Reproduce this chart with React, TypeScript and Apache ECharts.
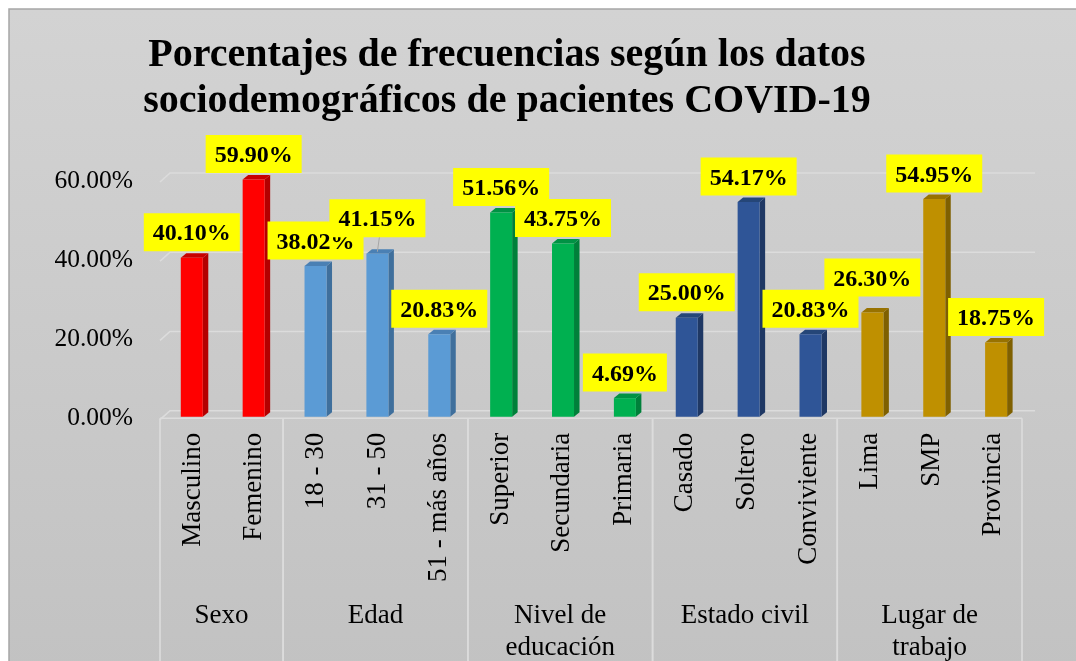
import React, { useEffect, useRef } from "react";
import * as echarts from "echarts";

const categories = [
  "Masculino", "Femenino",
  "18 - 30", "31 - 50", "51 - más años",
  "Superior", "Secundaria", "Primaria",
  "Casado", "Soltero", "Conviviente",
  "Lima", "SMP", "Provincia",
];
const values = [40.10, 59.90, 38.02, 41.15, 20.83, 51.56, 43.75, 4.69, 25.00, 54.17, 20.83, 26.30, 54.95, 18.75];
const groupNames = ["Sexo", "Edad", "Nivel de\neducación", "Estado civil", "Lugar de\ntrabajo"];
const groupStart = [0, 2, 5, 8, 11];
const groupEnd = [1, 4, 7, 10, 13];
const groupOf = [0, 0, 1, 1, 1, 2, 2, 2, 3, 3, 3, 4, 4, 4];
const yTicks = [0, 20, 40, 60];

const frontColors = ["#ff0000", "#5b9bd5", "#00b050", "#2f5597", "#bf9000"];
const sideColors = ["#b40000", "#3f6f9c", "#00803a", "#1f3864", "#7f6000"];
const topColors = ["#c80000", "#4a80b4", "#009244", "#254678", "#987200"];
// labels lifted higher in the reference (index -> lift, leader line)
const labelLift: Record<number, number> = { 3: 10, 11: 9.5 };
const leaderLines = [3];

const FONT = "'Liberation Serif', 'Times New Roman', serif";
const N = categories.length;

function barX(api: any, i: number, v: number) {
  const p = api.coord([i, v]);
  return [p[0] + 1 + i * 0.3, p[1]];
}

export default function App() {
  const ref = useRef<HTMLDivElement>(null);
  useEffect(() => {
    if (!ref.current) return;
    const chart = echarts.init(ref.current, undefined, { renderer: "svg" });

    const renderWall = (_p: any, api: any) => {
      const v = api.value(1);
      const band = api.size([1, 0])[0];
      const p0 = api.coord([0, v]);
      const pN = api.coord([N - 1, v]);
      const left = p0[0] - band / 2;
      const right = pN[0] + band / 2;
      const y = p0[1];
      const children: any[] = [
        {
          type: "polyline",
          shape: { points: [[left, y + 3], [left + 10, y - 6], [right + 13, y - 6]] },
          style: { stroke: "#dcdcdc", lineWidth: 1.6, fill: null },
        },
      ];
      if (v === 0) {
        children.push({
          type: "line",
          shape: { x1: left, y1: y + 1.5, x2: right, y2: y + 1.5 },
          style: { stroke: "#dcdcdc", lineWidth: 1.6 },
        });
      }
      return { type: "group", children };
    };

    const renderBar = (_p: any, api: any) => {
      const i = api.value(0);
      const v = api.value(1);
      const [cx, yTop] = barX(api, i, v);
      const yBase = barX(api, i, 0)[1];
      const w = 22, dx = 5.5, dy = -4.5;
      const x0 = cx - w / 2, x1 = cx + w / 2;
      const g = groupOf[i];
      return {
        type: "group",
        children: [
          {
            type: "polygon",
            shape: { points: [[x1, yTop], [x1 + dx, yTop + dy], [x1 + dx, yBase + dy], [x1, yBase]] },
            style: { fill: sideColors[g] },
          },
          {
            type: "polygon",
            shape: { points: [[x0, yTop], [x0 + dx, yTop + dy], [x1 + dx, yTop + dy], [x1, yTop]] },
            style: { fill: topColors[g] },
          },
          {
            type: "rect",
            shape: { x: x0, y: yTop, width: w, height: yBase - yTop },
            style: { fill: frontColors[g] },
          },
        ],
      };
    };

    const renderLabel = (_p: any, api: any) => {
      const i = api.value(0);
      const v = api.value(1);
      const [bx, yTop] = barX(api, i, v);
      const lift = labelLift[i] || 0;
      const boxBottom = yTop - 6.5 - lift;
      const children: any[] = [];
      if (leaderLines.indexOf(i) >= 0) {
        children.push({
          type: "line",
          shape: { x1: bx + 2, y1: boxBottom, x2: bx, y2: yTop - 2 },
          style: { stroke: "#a6a6a6", lineWidth: 1 },
        });
      }
      children.push({
        type: "text",
        x: bx,
        y: boxBottom,
        style: {
          text: v.toFixed(2) + "%",
          align: "center",
          verticalAlign: "bottom",
          font: `bold 24px ${FONT}`,
          fill: "#000",
          backgroundColor: "#ffff00",
          padding: [7, 9, 7, 9],
          lineHeight: 24,
        },
      });
      return { type: "group", children };
    };

    const renderGroup = (_p: any, api: any) => {
      const gi = _p.dataIndex;
      const s = api.value(0);
      const e = api.value(1);
      const band = api.size([1, 0])[0];
      const ps = api.coord([s, 0]);
      const pe = api.coord([e, 0]);
      const left = ps[0] - band / 2;
      const right = pe[0] + band / 2;
      const yb = ps[1];
      return {
        type: "group",
        children: [
          { type: "line", shape: { x1: left, y1: yb + 1.5, x2: left, y2: yb + 300 }, style: { stroke: "#dcdcdc", lineWidth: 1.6 } },
          { type: "line", shape: { x1: right, y1: yb + 1.5, x2: right, y2: yb + 300 }, style: { stroke: "#dcdcdc", lineWidth: 1.6 } },
          {
            type: "text",
            x: (left + right) / 2,
            y: yb + 181,
            style: {
              text: groupNames[gi],
              align: "center",
              verticalAlign: "top",
              font: `27px ${FONT}`,
              lineHeight: 32,
              fill: "#000",
            },
          },
        ],
      };
    };

    chart.setOption({
      animation: false,
      graphic: [
        {
          type: "rect",
          z: -10,
          silent: true,
          shape: { x: 9, y: 9, width: 1100, height: 700 },
          style: {
            fill: new echarts.graphic.LinearGradient(0, 0, 0, 1, [
              { offset: 0, color: "#d3d3d3" },
              { offset: 1, color: "#c1c1c1" },
            ]),
            stroke: "#a6a6a6",
            lineWidth: 1.5,
          },
        },
        {
          type: "text",
          x: 507,
          y: 29,
          z: 10,
          style: {
            text: "Porcentajes de frecuencias según los datos\nsociodemográficos de pacientes COVID-19",
            align: "center",
            verticalAlign: "top",
            font: `bold 40px ${FONT}`,
            lineHeight: 46,
            fill: "#000",
          },
        },
      ],
      grid: { left: 160, right: 54, top: 179, bottom: 244.3, containLabel: false },
      xAxis: {
        type: "category",
        data: categories,
        axisLine: { show: false },
        axisTick: { show: false },
        axisLabel: {
          interval: 0,
          rotate: 90,
          margin: 16,
          fontSize: 27,
          fontFamily: FONT,
          color: "#000",
        },
      },
      yAxis: {
        type: "value",
        min: 0,
        max: 60,
        interval: 20,
        axisLine: { show: false },
        axisTick: { show: false },
        splitLine: { show: false },
        axisLabel: {
          margin: 27,
          fontSize: 25.5,
          fontFamily: FONT,
          color: "#000",
          padding: [5, 0, 0, 0],
          formatter: (v: number) => v.toFixed(2) + "%",
        },
      },
      series: [
        {
          type: "custom",
          z: 1,
          silent: true,
          clip: false,
          renderItem: renderWall,
          data: yTicks.map((t) => [0, t]),
        },
        {
          type: "custom",
          z: 1,
          silent: true,
          clip: false,
          renderItem: renderGroup,
          data: groupStart.map((s, k) => [s, groupEnd[k]]),
        },
        {
          type: "custom",
          z: 3,
          clip: false,
          renderItem: renderBar,
          data: values.map((v, i) => [i, v]),
        },
        {
          type: "custom",
          z: 5,
          clip: false,
          renderItem: renderLabel,
          data: values.map((v, i) => [i, v]),
        },
      ],
    });
    return () => chart.dispose();
  }, []);
  return <div ref={ref} style={{ position: "fixed", left: 0, top: 0, width: 1076, height: 661 }} />;
}
